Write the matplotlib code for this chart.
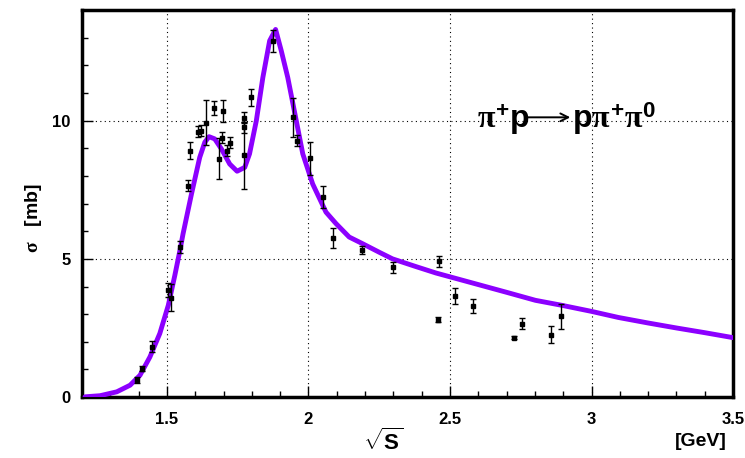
import matplotlib
matplotlib.use("Agg")
import matplotlib.pyplot as plt
import numpy as np

# data points: sqrt(s) [GeV], sigma [mb], error
data_x = [1.393, 1.411, 1.446, 1.505, 1.516, 1.546, 1.575, 1.581, 1.61, 1.62,
          1.637, 1.665, 1.684, 1.694, 1.698, 1.712, 1.722, 1.772, 1.772, 1.772,
          1.797, 1.874, 1.945, 1.959, 2.004, 2.05, 2.086, 2.189, 2.299, 2.461,
          2.459, 2.518, 2.581, 2.725, 2.755, 2.858, 2.892]
data_y = [0.61, 1.03, 1.82, 3.86, 3.6, 5.43, 7.65, 8.92, 9.6, 9.64,
          9.93, 10.47, 8.63, 9.38, 10.36, 8.92, 9.2, 10.1, 9.76, 8.74,
          10.84, 12.89, 10.12, 9.28, 8.64, 7.23, 5.76, 5.31, 4.7, 4.92,
          2.8, 3.65, 3.29, 2.15, 2.66, 2.26, 2.92]
data_err = [0.1, 0.1, 0.2, 0.25, 0.5, 0.2, 0.2, 0.3, 0.2, 0.2,
            0.8, 0.25, 0.75, 0.2, 0.4, 0.2, 0.2, 0.2, 0.2, 1.2,
            0.3, 0.4, 0.7, 0.2, 0.6, 0.4, 0.35, 0.15, 0.2, 0.2,
            0.1, 0.3, 0.25, 0.05, 0.2, 0.3, 0.45]

# model curve
curve_x = [1.211, 1.264, 1.323, 1.37, 1.405, 1.44, 1.475, 1.505, 1.528, 1.546,
           1.557, 1.587, 1.616, 1.634, 1.649, 1.669, 1.693, 1.722, 1.748, 1.775,
           1.792, 1.816, 1.839, 1.863, 1.884, 1.904, 1.927, 1.957, 1.98, 2.015,
           2.062, 2.098, 2.121, 2.144, 2.191, 2.25, 2.297, 2.38, 2.45, 2.6,
           2.7, 2.802, 2.895, 3.0, 3.095, 3.2, 3.3, 3.4, 3.5]
curve_y = [0.01, 0.05, 0.19, 0.43, 0.79, 1.45, 2.3, 3.32, 4.4, 5.3,
           5.9, 7.35, 8.67, 9.22, 9.42, 9.34, 8.97, 8.43, 8.17, 8.31,
           8.8, 10.0, 11.56, 12.89, 13.3, 12.53, 11.56, 10.0, 8.8, 7.71,
           6.69, 6.27, 6.03, 5.79, 5.55, 5.24, 5.0, 4.72, 4.49, 4.07,
           3.79, 3.5, 3.32, 3.1, 2.88, 2.68, 2.5, 2.33, 2.15]

plt.rcParams['font.family'] = 'Liberation Sans'
plt.rcParams['font.weight'] = 'bold'
plt.rcParams['mathtext.fontset'] = 'custom'
plt.rcParams['mathtext.rm'] = 'Liberation Serif'
plt.rcParams['mathtext.it'] = 'Liberation Serif'
plt.rcParams['mathtext.bf'] = 'Liberation Sans:bold'
plt.rcParams['mathtext.sf'] = 'Liberation Sans:bold'

fig = plt.figure(figsize=(7.45, 4.58), dpi=100)
ax = fig.add_axes([0.11, 0.133, 0.874, 0.845])

ax.plot(curve_x, curve_y, color='#8c00ff', lw=3.5, zorder=3,
        solid_capstyle='round', solid_joinstyle='round')
ax.errorbar(data_x, data_y, yerr=data_err, fmt='s', color='black', ms=3.5,
            elinewidth=1, capsize=2.5, capthick=1, zorder=4)

ax.set_xlim(1.2, 3.5)
ax.set_ylim(0, 14)
ax.set_xticks([1.5, 2, 2.5, 3, 3.5])
ax.set_xticklabels(['1.5', '2', '2.5', '3', '3.5'])
ax.set_xticks(np.arange(1.2, 3.51, 0.1), minor=True)
ax.set_yticks([0, 5, 10])
ax.set_yticks(np.arange(0, 14.1, 1), minor=True)
ax.tick_params(which='major', direction='in', length=8, width=1, labelsize=12, pad=8)
ax.tick_params(which='minor', direction='in', length=4, width=1)
ax.tick_params(axis='x', pad=11)
for s in ax.spines.values():
    s.set_linewidth(2.5)

for g in [1.5, 2, 2.5, 3]:
    ax.axvline(g, color='black', ls=(0, (1, 3)), lw=0.8, zorder=1)
for g in [5, 10]:
    ax.axhline(g, color='black', ls=(0, (1, 3)), lw=0.8, zorder=1)

# reaction label: pi+ p -> p pi+ pi0
ax.text(2.595, 9.75, r'$\pi^{\mathbf{+}}\mathbf{p}$', fontsize=23, va='baseline')
ax.annotate('', xy=(2.925, 10.12), xytext=(2.775, 10.12),
            arrowprops=dict(arrowstyle='->', lw=1.4, color='black',
                            shrinkA=0, shrinkB=0, mutation_scale=14))
ax.text(2.93, 9.75, r'$\mathbf{p}\pi^{\mathbf{+}}\pi^{\mathbf{0}}$', fontsize=23,
        va='baseline')

fig.text(0.515, 0.035, r'$\sqrt{\mathbf{S}}$', fontsize=16, ha='center', va='center')
fig.text(0.975, 0.035, '[GeV]', fontsize=14, ha='right', va='center')
fig.text(0.045, 0.525, r'$\mathrm{\sigma}$   [mb]', fontsize=14, rotation=90,
         ha='center', va='center')

fig.savefig('out.png', dpi=100)
